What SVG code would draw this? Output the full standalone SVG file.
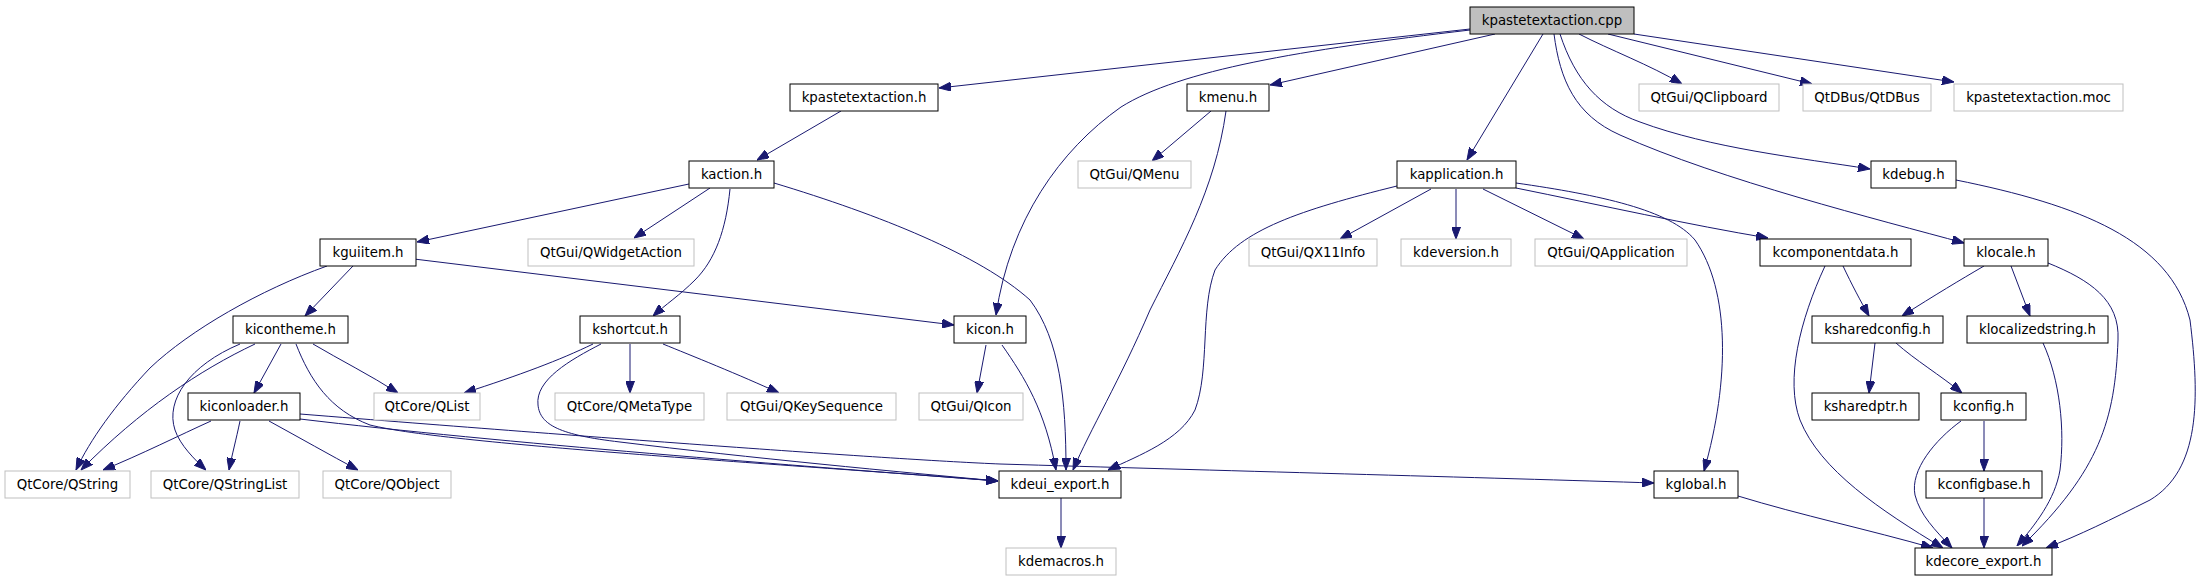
<svg xmlns="http://www.w3.org/2000/svg" width="2201" height="581" viewBox="0 0 2201 581">
<style>
.n rect{fill:#ffffff;stroke:#000000;stroke-width:1}
.x rect{fill:#ffffff;stroke:#bfbfbf;stroke-width:1}
.r rect{fill:#bfbfbf;stroke:#000000;stroke-width:1}
text{font-family:"DejaVu Sans","Liberation Sans",sans-serif;font-size:13.33px;fill:#000000;text-anchor:middle}
#edges path{fill:none;stroke:#191970;stroke-width:1;marker-end:url(#a)}
</style>
<defs>
<marker id="a" markerWidth="12" markerHeight="9" refX="12" refY="4.5" orient="auto" markerUnits="userSpaceOnUse">
<path d="M0,0 L12,4.5 L0,9 z" fill="#191970" stroke="#191970" stroke-width="1"/>
</marker>
</defs>
<rect width="2201" height="581" fill="#ffffff"/>
<g id="edges">
<path d="M1470,29 L939,88"/>
<path d="M1470,30 C1300,50 1180,70 1121,107 C1060,150 1010,220 996,315"/>
<path d="M1495,34 L1270,85"/>
<path d="M1543,34 L1467,160"/>
<path d="M1579,34 C1610,50 1650,65 1682,84"/>
<path d="M1608,34 L1812,84"/>
<path d="M1634,34 L1954,82"/>
<path d="M1560,34 C1575,80 1600,108 1640,122 C1710,148 1800,158 1870,169"/>
<path d="M1554,34 C1560,80 1575,115 1620,135 C1720,180 1880,220 1964,243"/>
<path d="M841,111 L757,160"/>
<path d="M1211,111 L1152,161"/>
<path d="M1226,111 C1215,190 1180,250 1150,310 C1120,380 1090,430 1073,470"/>
<path d="M689,184 L417,242"/>
<path d="M710,188 L634,238"/>
<path d="M730,189 C726,230 715,260 695,280 C680,295 665,305 653,316"/>
<path d="M774,183 C880,215 980,255 1030,300 C1060,340 1066,400 1066,470"/>
<path d="M986,345 L977,393"/>
<path d="M1002,345 C1025,378 1045,410 1056,470"/>
<path d="M414,259 L954,325"/>
<path d="M353,266 L305,316"/>
<path d="M327,266 C260,290 190,330 150,368 C115,405 90,440 76,470"/>
<path d="M255,344 C200,370 140,410 81,470"/>
<path d="M240,344 C190,365 165,400 175,430 C180,445 195,460 206,470"/>
<path d="M281,344 L254,393"/>
<path d="M313,344 C340,360 370,375 398,393"/>
<path d="M296,344 C310,380 330,410 370,425 C450,445 800,465 998,481"/>
<path d="M211,421 C180,435 140,455 103,470"/>
<path d="M240,421 C236,440 232,455 229,470"/>
<path d="M269,421 C300,438 330,455 358,470"/>
<path d="M300,419 C500,443 800,466 998,481"/>
<path d="M300,414 C600,438 900,460 1000,464 C1200,470 1500,478 1654,483"/>
<path d="M593,344 C560,360 520,375 464,393"/>
<path d="M630,344 L630,393"/>
<path d="M663,344 C690,355 740,375 779,393"/>
<path d="M601,344 C570,360 535,380 538,405 C540,425 560,435 620,442 C750,458 900,472 998,481"/>
<path d="M1397,186 C1300,210 1240,230 1215,270 C1200,310 1210,370 1195,410 C1180,440 1140,455 1108,470"/>
<path d="M1431,189 L1340,239"/>
<path d="M1456,189 L1456,239"/>
<path d="M1483,189 L1584,239"/>
<path d="M1516,188 C1600,205 1690,225 1768,238"/>
<path d="M1516,183 C1600,195 1670,210 1695,240 C1730,290 1730,380 1704,471"/>
<path d="M1956,180 C2080,205 2170,240 2190,320 C2200,400 2200,470 2150,500 C2110,520 2080,535 2046,548"/>
<path d="M1843,266 C1852,285 1860,300 1869,316"/>
<path d="M1825,266 C1800,320 1785,380 1800,420 C1820,470 1880,510 1943,548"/>
<path d="M1984,266 C1960,280 1935,295 1902,316"/>
<path d="M2011,266 L2030,316"/>
<path d="M2048,263 C2090,280 2120,300 2118,340 C2115,420 2100,470 2022,546"/>
<path d="M1875,343 L1869,393"/>
<path d="M1896,343 C1915,360 1940,375 1962,393"/>
<path d="M2043,343 C2060,380 2065,430 2060,470 C2055,500 2035,525 2017,546"/>
<path d="M1984,421 L1984,471"/>
<path d="M1961,421 C1935,440 1910,470 1915,495 C1920,515 1935,530 1952,548"/>
<path d="M1984,498 L1984,548"/>
<path d="M1738,496 C1800,515 1870,530 1933,548"/>
<path d="M1061,498 L1061,548"/>
</g>
<g id="n_cpp" class="r"><rect x="1470" y="7" width="164" height="27"/><text x="1552" y="25">kpastetextaction.cpp</text></g>
<g id="n_kpastetextaction_h" class="n"><rect x="790" y="84" width="148" height="27"/><text x="864" y="102">kpastetextaction.h</text></g>
<g id="n_kmenu" class="n"><rect x="1187" y="84" width="82" height="27"/><text x="1228" y="102">kmenu.h</text></g>
<g id="n_qclipboard" class="x"><rect x="1639" y="84" width="140" height="27"/><text x="1709" y="102">QtGui/QClipboard</text></g>
<g id="n_qtdbus" class="x"><rect x="1803" y="84" width="128" height="27"/><text x="1867" y="102">QtDBus/QtDBus</text></g>
<g id="n_moc" class="x"><rect x="1954" y="84" width="169" height="27"/><text x="2038.5" y="102">kpastetextaction.moc</text></g>
<g id="n_kaction" class="n"><rect x="689" y="161" width="85" height="27"/><text x="731.5" y="179">kaction.h</text></g>
<g id="n_qmenu" class="x"><rect x="1078" y="161" width="113" height="27"/><text x="1134.5" y="179">QtGui/QMenu</text></g>
<g id="n_kapplication" class="n"><rect x="1397" y="161" width="119" height="27"/><text x="1456.5" y="179">kapplication.h</text></g>
<g id="n_kdebug" class="n"><rect x="1871" y="161" width="85" height="27"/><text x="1913.5" y="179">kdebug.h</text></g>
<g id="n_kguiitem" class="n"><rect x="320" y="239" width="96" height="27"/><text x="368" y="257">kguiitem.h</text></g>
<g id="n_qwidgetaction" class="x"><rect x="528" y="239" width="166" height="27"/><text x="611" y="257">QtGui/QWidgetAction</text></g>
<g id="n_qx11info" class="x"><rect x="1249" y="239" width="128" height="27"/><text x="1313" y="257">QtGui/QX11Info</text></g>
<g id="n_kdeversion" class="x"><rect x="1401" y="239" width="110" height="27"/><text x="1456" y="257">kdeversion.h</text></g>
<g id="n_qapplication" class="x"><rect x="1535" y="239" width="152" height="27"/><text x="1611" y="257">QtGui/QApplication</text></g>
<g id="n_kcomponentdata" class="n"><rect x="1760" y="239" width="151" height="27"/><text x="1835.5" y="257">kcomponentdata.h</text></g>
<g id="n_klocale" class="n"><rect x="1964" y="239" width="84" height="27"/><text x="2006" y="257">klocale.h</text></g>
<g id="n_kicontheme" class="n"><rect x="233" y="316" width="115" height="27"/><text x="290.5" y="334">kicontheme.h</text></g>
<g id="n_kshortcut" class="n"><rect x="580" y="316" width="100" height="27"/><text x="630" y="334">kshortcut.h</text></g>
<g id="n_kicon" class="n"><rect x="954" y="316" width="72" height="27"/><text x="990" y="334">kicon.h</text></g>
<g id="n_ksharedconfig" class="n"><rect x="1812" y="316" width="131" height="27"/><text x="1877.5" y="334">ksharedconfig.h</text></g>
<g id="n_klocalizedstring" class="n"><rect x="1967" y="316" width="141" height="27"/><text x="2037.5" y="334">klocalizedstring.h</text></g>
<g id="n_kiconloader" class="n"><rect x="188" y="393" width="112" height="27"/><text x="244" y="411">kiconloader.h</text></g>
<g id="n_qlist" class="x"><rect x="374" y="393" width="106" height="27"/><text x="427" y="411">QtCore/QList</text></g>
<g id="n_qmetatype" class="x"><rect x="555" y="393" width="149" height="27"/><text x="629.5" y="411">QtCore/QMetaType</text></g>
<g id="n_qkeysequence" class="x"><rect x="727" y="393" width="169" height="27"/><text x="811.5" y="411">QtGui/QKeySequence</text></g>
<g id="n_qicon" class="x"><rect x="919" y="393" width="104" height="27"/><text x="971" y="411">QtGui/QIcon</text></g>
<g id="n_ksharedptr" class="n"><rect x="1812" y="393" width="107" height="27"/><text x="1865.5" y="411">ksharedptr.h</text></g>
<g id="n_kconfig" class="n"><rect x="1941" y="393" width="85" height="27"/><text x="1983.5" y="411">kconfig.h</text></g>
<g id="n_qstring" class="x"><rect x="5" y="471" width="125" height="27"/><text x="67.5" y="489">QtCore/QString</text></g>
<g id="n_qstringlist" class="x"><rect x="151" y="471" width="148" height="27"/><text x="225" y="489">QtCore/QStringList</text></g>
<g id="n_qobject" class="x"><rect x="323" y="471" width="128" height="27"/><text x="387" y="489">QtCore/QObject</text></g>
<g id="n_kdeui_export" class="n"><rect x="999" y="471" width="122" height="27"/><text x="1060" y="489">kdeui_export.h</text></g>
<g id="n_kglobal" class="n"><rect x="1654" y="471" width="84" height="27"/><text x="1696" y="489">kglobal.h</text></g>
<g id="n_kconfigbase" class="n"><rect x="1926" y="471" width="116" height="27"/><text x="1984" y="489">kconfigbase.h</text></g>
<g id="n_kdemacros" class="x"><rect x="1006" y="548" width="110" height="27"/><text x="1061" y="566">kdemacros.h</text></g>
<g id="n_kdecore_export" class="n"><rect x="1915" y="548" width="137" height="27"/><text x="1983.5" y="566">kdecore_export.h</text></g>
</svg>
